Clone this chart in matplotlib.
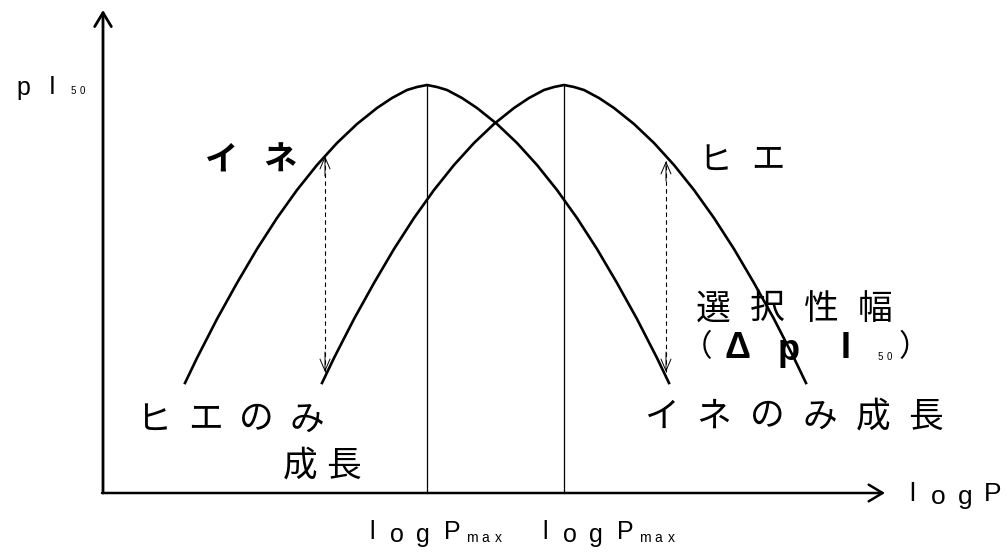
import matplotlib
matplotlib.use("Agg")
import matplotlib.pyplot as plt

plt.rcParams["font.family"] = ["Noto Sans CJK JP", "DejaVu Sans"]

W, H = 1008, 554
JP = ["Noto Sans CJK JP", "DejaVu Sans"]
LAT = ["Liberation Sans", "DejaVu Sans"]

# curves (x: logP, y: pI50, arbitrary units, origin at axis corner)
INE_LOGP = [0.82, 0.94, 1.14, 1.34, 1.54, 1.74, 1.94, 2.14, 2.34, 2.54, 2.74, 2.89, 3.04, 3.14, 3.24,
            3.34, 3.44, 3.59, 3.74, 3.94, 4.14, 4.34, 4.54, 4.74, 4.94, 5.14, 5.34, 5.54, 5.66]
INE_PI50 = [1.10, 1.35, 1.74, 2.10, 2.44, 2.75, 3.03, 3.28, 3.50, 3.69, 3.85, 3.95, 4.03, 4.06, 4.08,
            4.06, 4.03, 3.95, 3.85, 3.69, 3.50, 3.28, 3.03, 2.75, 2.44, 2.10, 1.74, 1.35, 1.10]

HIE_LOGP = [2.19, 2.31, 2.51, 2.71, 2.91, 3.11, 3.31, 3.51, 3.71, 3.91, 4.11, 4.26, 4.41, 4.51, 4.61,
            4.71, 4.81, 4.96, 5.11, 5.31, 5.51, 5.71, 5.91, 6.11, 6.31, 6.51, 6.71, 6.91, 7.03]
HIE_PI50 = [1.10, 1.35, 1.74, 2.10, 2.44, 2.75, 3.03, 3.28, 3.50, 3.69, 3.85, 3.95, 4.03, 4.06, 4.08,
            4.06, 4.03, 3.95, 3.85, 3.69, 3.50, 3.28, 3.03, 2.75, 2.44, 2.10, 1.74, 1.35, 1.10]

PEAK_LOGP = [3.24, 4.61]
PEAK_PI50 = 4.08

# dashed selectivity arrows
SEL_LOGP = [2.22, 5.63]
SEL_TOP = [3.37, 3.32]
SEL_BOTTOM = [1.21, 1.21]

X_AXIS_END = 7.82
Y_AXIS_END = 4.83


def label(px, py, s, size, pitch=None, family=JP, **kw):
	# place text by pixel position of the reference (centre of glyph)
	xs = [px] if pitch is None else [px + i * pitch for i in range(len(s))]
	parts = [s] if pitch is None else list(s)
	for x, part in zip(xs, parts):
		fig.text(x / W, 1 - py / H, part, fontsize=size, ha="center", va="center",
		         family=family, **kw)


fig = plt.figure(figsize=(W / 100, H / 100), dpi=100)
ax = fig.add_axes([0, 0, 1, 1])
ax.set_xlim(-1.03, 9.05)
ax.set_ylim(-0.61, 4.93)
ax.axis("off")

ax.plot(INE_LOGP, INE_PI50, color="black", linewidth=1.9, solid_joinstyle="round")
ax.plot(HIE_LOGP, HIE_PI50, color="black", linewidth=1.9, solid_joinstyle="round")

for xp in PEAK_LOGP:
	ax.plot([xp, xp], [0, PEAK_PI50], color="black", linewidth=0.9)

# axes with open arrow heads
ax.annotate("", xy=(0, Y_AXIS_END), xytext=(0, 0),
            arrowprops=dict(arrowstyle="->, head_length=0.5, head_width=0.3", color="black",
                            lw=2.0, mutation_scale=20, shrinkA=0, shrinkB=0))
ax.annotate("", xy=(X_AXIS_END, 0), xytext=(-0.01, 0),
            arrowprops=dict(arrowstyle="->, head_length=0.5, head_width=0.3", color="black",
                            lw=1.8, mutation_scale=20, shrinkA=0, shrinkB=0))

for xs, top, bot in zip(SEL_LOGP, SEL_TOP, SEL_BOTTOM):
	ax.plot([xs, xs], [bot, top], color="black", linewidth=0.8, linestyle=(0, (4, 3)))
	for tip, tail in [(top, top - 0.2), (bot, bot + 0.2)]:
		ax.annotate("", xy=(xs, tip), xytext=(xs, tail),
		            arrowprops=dict(arrowstyle="->, head_length=0.7, head_width=0.3", color="black",
		                            lw=0.7, mutation_scale=12, shrinkA=0, shrinkB=0))

# y label
label(23, 88, "p", 18, family=LAT)
label(52, 87, "I", 18, family=LAT)
label(73, 91, "5", 7, family=LAT)
label(82, 91, "0", 7, family=LAT)

# curve names
label(222, 160, "イネ", 24, pitch=58, fontweight="bold")
label(715, 160, "ヒエ", 24, pitch=53)

label(713, 309, "選択性幅", 25, pitch=54)
label(697, 348, "（", 22)
label(738, 348, "Δ", 26, family=LAT, fontweight="bold")
label(789, 350, "p", 26, family=LAT, fontweight="bold")
label(846, 348, "I", 26, family=LAT, fontweight="bold")
label(880, 357, "5", 7, family=LAT)
label(889, 357, "0", 7, family=LAT)
label(914, 348, "）", 22)

label(154, 420, "ヒエのみ", 25, pitch=51)
label(300, 466, "成長", 25, pitch=44)
label(661, 417, "イネのみ成長", 25, pitch=53)

# x label
label(912, 494, "l", 19, family=LAT)
label(938, 497, "o", 19, family=LAT)
label(965, 497, "g", 19, family=LAT)
label(993, 494, "P", 19, family=LAT)

for x0 in [372, 545]:
	label(x0, 532, "l", 18, family=LAT)
	label(x0 + 25, 535, "o", 18, family=LAT)
	label(x0 + 51, 535, "g", 18, family=LAT)
	label(x0 + 80, 532, "P", 18, family=LAT)
	label(x0 + 100, 538, "m", 10, family=LAT)
	label(x0 + 113, 538, "a", 10, family=LAT)
	label(x0 + 126, 538, "x", 10, family=LAT)

fig.savefig("out.png", dpi=100)
